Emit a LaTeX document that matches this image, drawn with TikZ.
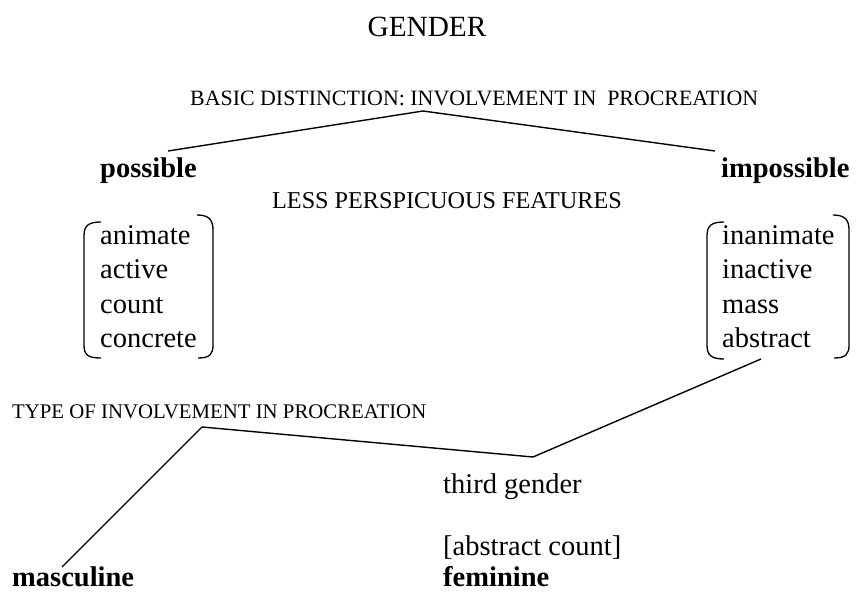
\documentclass[tikz,border=0pt]{standalone}
\usepackage{fontspec}
\setmainfont{Liberation Serif}
\begin{document}
\begin{tikzpicture}[x=1pt,y=-1pt,
  big/.style={inner sep=0pt,anchor=base west,font=\fontsize{28.5}{32}\selectfont},
  bigb/.style={big,font=\fontsize{28.5}{32}\selectfont\bfseries},
  small/.style={inner sep=0pt,anchor=base west,font=\fontsize{21.9}{24}\selectfont},
  branch/.style={line width=1.4pt,line join=miter},
  brack/.style={line width=1.3pt}]
\useasboundingbox (0,0) rectangle (861,593);
\node[big,anchor=base,font=\fontsize{29.3}{32}\selectfont] (gender) at (427,37) {GENDER};
\node[small] (basic) at (190,106) {BASIC DISTINCTION: INVOLVEMENT IN\ \ PROCREATION};
\node[bigb] (poss) at (100,178) {possible};
\node[bigb] (imposs) at (721,178) {impossible};
\node[small,font=\fontsize{24.2}{26}\selectfont] (less) at (272,209) {LESS PERSPICUOUS FEATURES};
\node[big] (l1) at (100,245) {animate};
\node[big] (l2) at (100,279) {active};
\node[big] (l3) at (100,313) {count};
\node[big] (l4) at (100,347) {concrete};
\node[big] (r1) at (722,245) {inanimate};
\node[big] (r2) at (722,279) {inactive};
\node[big] (r3) at (722,313) {mass};
\node[big] (r4) at (722,347) {abstract};
\node[small,font=\fontsize{20.8}{24}\selectfont] (type) at (12,418) {TYPE OF INVOLVEMENT IN PROCREATION};
\node[big] (third) at (443,493) {third gender};
\node[big] (abscount) at (443,555) {[abstract count]};
\node[bigb] (fem) at (443,586) {feminine};
\node[bigb] (masc) at (12,586) {masculine};
% connectors
\coordinate (p1) at (168,151);
\coordinate (p2) at (423,111);
\coordinate (p3) at (715,151);
\draw[branch] (p1) -- (p2) -- (p3);
\coordinate (q1) at (62,567);
\coordinate (q2) at (202,427);
\coordinate (q3) at (533,457);
\coordinate (q4) at (761,359);
\draw[branch] (q1) -- (q2) -- (q3) -- (q4);
% brackets left
\draw[brack] (101,222) .. controls (88,222) and (84,226) .. (84,236) -- (84,345) .. controls (84,355) and (88,358) .. (101,358);
\draw[brack] (197,215) .. controls (209,215) and (213,220) .. (213,230) -- (213,345) .. controls (213,354) and (210,358) .. (198,358);
% brackets right
\draw[brack] (724,222) .. controls (711,222) and (707,226) .. (707,236) -- (707,345) .. controls (707,355) and (711,359) .. (724,359);
\draw[brack] (833,215) .. controls (845,215) and (849,220) .. (849,230) -- (849,345) .. controls (849,354) and (846,358) .. (834,358);
\end{tikzpicture}
\end{document}
